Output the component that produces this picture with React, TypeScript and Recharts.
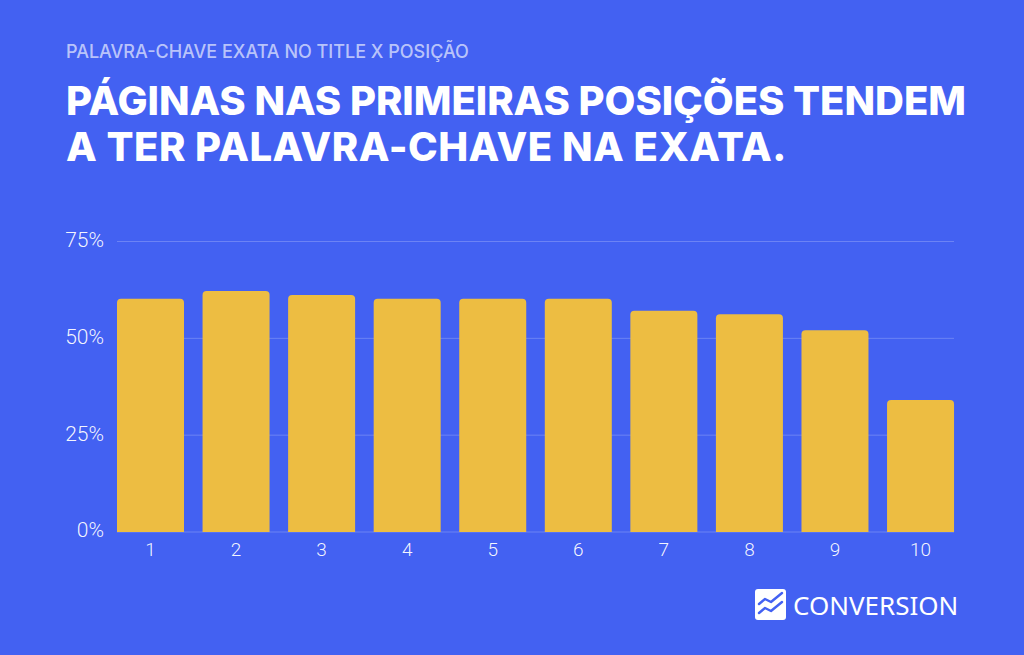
import { BarChart, Bar, XAxis, YAxis, CartesianGrid } from 'recharts';

const positions = ['1', '2', '3', '4', '5', '6', '7', '8', '9', '10'];
const shares = [60.2, 62.2, 61.2, 60.2, 60.2, 60.2, 57.1, 56.2, 52.1, 34.1];
const yTicks = [0, 25, 50, 75];

const kicker = 'PALAVRA-CHAVE EXATA NO TITLE X POSIÇÃO';
const titleLines = ['PÁGINAS NAS PRIMEIRAS POSIÇÕES TENDEM', 'A TER PALAVRA-CHAVE NA EXATA.'];

const chartData = positions.map((position, i) => ({ position, share: shares[i] }));

const BG = '#4361F2';
const BAR = '#EDBD42';
const GRID = 'rgba(255,255,255,0.22)';
const TICK = 'rgba(255,255,255,0.94)';
// half of the gap between bars: the first and last bar sit flush with the grid ends
const EDGE = 9.3;
// the two title lines need a slightly different tracking to end where the original does
const TITLE_TRACKING = [-0.05, 0.48];

function GridLine(props: any) {
  return (
    <line
      x1={props.x1 + EDGE}
      x2={props.x2 - EDGE}
      y1={props.y1}
      y2={props.y2}
      stroke={GRID}
      strokeWidth={1}
    />
  );
}

export default function App() {
  return (
    <div style={{ position: 'relative', width: 1024, height: 655, background: BG, overflow: 'hidden' }}>
      <style>{'body{margin:0}'}</style>

      <div
        style={{
          position: 'absolute',
          left: 66,
          top: 41,
          fontFamily: 'Inter',
          fontSize: 18,
          lineHeight: '22px',
          fontWeight: 500,
          color: 'rgba(255,255,255,0.65)',
          whiteSpace: 'nowrap',
        }}
      >
        {kicker}
      </div>

      {titleLines.map((line, i) => (
        <div
          key={line}
          style={{
            position: 'absolute',
            left: 66,
            top: 73 + i * 46,
            fontFamily: 'Inter',
            fontSize: 40,
            lineHeight: '56px',
            fontWeight: 800,
            letterSpacing: TITLE_TRACKING[i],
            color: '#fff',
            whiteSpace: 'nowrap',
          }}
        >
          {line}
        </div>
      ))}

      <div style={{ position: 'absolute', left: 0, top: 0 }}>
        <BarChart
          width={1024}
          height={655}
          data={chartData}
          margin={{ top: 241.5, right: 60.7, bottom: 0, left: 0 }}
          barCategoryGap={EDGE}
        >
          <CartesianGrid vertical={false} horizontal={(p: any) => <GridLine key={p.key} {...p} />} />
          <XAxis
            dataKey="position"
            axisLine={false}
            tickLine={false}
            tickSize={0}
            tickMargin={11}
            interval={0}
            height={123}
            tick={{ fill: TICK, fontSize: 19, fontFamily: 'Roboto', fontWeight: 300 }}
          />
          <YAxis
            domain={[0, 75]}
            ticks={yTicks}
            tickFormatter={(v: number) => `${v}%`}
            axisLine={false}
            tickLine={false}
            tickSize={0}
            tickMargin={3.7}
            width={107.7}
            tick={{ fill: TICK, fontSize: 21, fontFamily: 'Roboto', fontWeight: 300, dy: -2 }}
          />
          <Bar dataKey="share" fill={BAR} radius={[4, 4, 0, 0]} isAnimationActive={false} />
        </BarChart>
      </div>

      {/* logo */}
      <svg width={31} height={31} viewBox="0 0 31 31" style={{ position: 'absolute', left: 755, top: 589 }}>
        <rect width={31} height={31} rx={3} fill="#fff" />
        <path d="M4 15 L10 10 L16 13 L27 4" fill="none" stroke={BG} strokeWidth={2.4} strokeLinecap="round" strokeLinejoin="round" />
        <path d="M4 24 L10 19 L16 22 L27 13" fill="none" stroke={BG} strokeWidth={2.4} strokeLinecap="round" strokeLinejoin="round" />
      </svg>
      <div
        style={{
          position: 'absolute',
          left: 793,
          top: 588,
          fontFamily: 'Noto Sans',
          fontSize: 26,
          lineHeight: '34px',
          fontWeight: 400,
          color: '#fff',
          whiteSpace: 'nowrap',
        }}
      >
        CONVERSION
      </div>
    </div>
  );
}
